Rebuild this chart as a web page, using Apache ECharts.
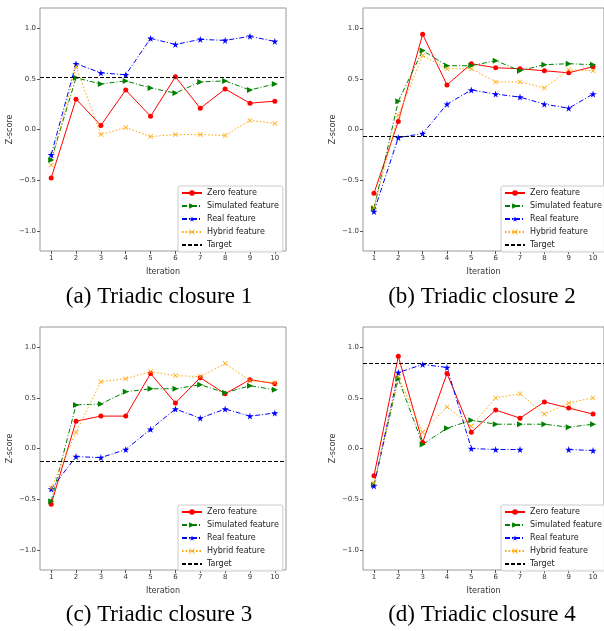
<!DOCTYPE html>
<html>
<head>
<meta charset="utf-8">
<script src="https://cdn.jsdelivr.net/npm/echarts@6/dist/echarts.min.js"></script>
<style>
  html, body { margin: 0; padding: 0; background: #fff; }
  #chart { width: 604px; height: 631px; }
</style>
</head>
<body>
<div id="chart"></div>
<script>
// shared axes
const iterations = [1, 2, 3, 4, 5, 6, 7, 8, 9, 10];
const yTicks = [-1.0, -0.5, 0.0, 0.5, 1.0];
const seriesNames = ['Zero feature', 'Simulated feature', 'Real feature', 'Hybrid feature', 'Target'];
const captions = ['(a) Triadic closure 1', '(b) Triadic closure 2', '(c) Triadic closure 3', '(d) Triadic closure 4'];

// (a)
const zero1 = [-0.48, 0.30, 0.04, 0.39, 0.13, 0.52, 0.21, 0.40, 0.26, 0.28];
const sim1 = [-0.30, 0.51, 0.45, 0.48, 0.41, 0.36, 0.47, 0.48, 0.39, 0.45];
const real1 = [-0.25, 0.65, 0.56, 0.54, 0.90, 0.84, 0.89, 0.88, 0.92, 0.87];
const hybrid1 = [-0.35, 0.62, -0.05, 0.02, -0.07, -0.05, -0.05, -0.06, 0.09, 0.06];
const target1 = 0.52;

// (b)
const zero2 = [-0.63, 0.08, 0.94, 0.44, 0.65, 0.61, 0.60, 0.58, 0.56, 0.62];
const sim2 = [-0.78, 0.28, 0.78, 0.63, 0.63, 0.68, 0.58, 0.64, 0.65, 0.64];
const real2 = [-0.81, -0.08, -0.04, 0.25, 0.39, 0.35, 0.32, 0.25, 0.21, 0.35];
const hybrid2 = [-0.77, 0.14, 0.73, 0.60, 0.60, 0.47, 0.47, 0.41, 0.59, 0.58];
const target2 = -0.07;

// (c)
const zero3 = [-0.55, 0.27, 0.32, 0.32, 0.74, 0.45, 0.70, 0.54, 0.68, 0.64];
const sim3 = [-0.52, 0.43, 0.44, 0.56, 0.59, 0.59, 0.63, 0.55, 0.62, 0.58];
const real3 = [-0.40, -0.08, -0.09, -0.01, 0.19, 0.39, 0.30, 0.39, 0.32, 0.35];
const hybrid3 = [-0.39, 0.16, 0.66, 0.69, 0.76, 0.72, 0.71, 0.84, 0.67, 0.65];
const target3 = -0.13;

// (d) -- real feature has no value at iteration 8
const zero4 = [-0.27, 0.91, 0.06, 0.74, 0.16, 0.38, 0.30, 0.46, 0.40, 0.34];
const sim4 = [-0.36, 0.69, 0.04, 0.20, 0.28, 0.24, 0.24, 0.24, 0.21, 0.24];
const real4 = [-0.37, 0.75, 0.83, 0.80, 0.00, -0.01, -0.01, null, -0.01, -0.02];
const hybrid4 = [-0.34, 0.71, 0.16, 0.41, 0.22, 0.50, 0.54, 0.34, 0.45, 0.50];
const target4 = 0.84;

const panels = [
  { zero: zero1, sim: sim1, real: real1, hybrid: hybrid1, target: target1, left: 40, top: 8, capY: 297 },
  { zero: zero2, sim: sim2, real: real2, hybrid: hybrid2, target: target2, left: 363, top: 8, capY: 297 },
  { zero: zero3, sim: sim3, real: real3, hybrid: hybrid3, target: target3, left: 40, top: 327, capY: 615 },
  { zero: zero4, sim: sim4, real: real4, hybrid: hybrid4, target: target4, left: 363, top: 327, capY: 615 }
];

const PLOT_W = 246;
const PLOT_H = 243;
const starPath = 'path://M50,0 L61,35 L98,35 L68,57 L79,91 L50,70 L21,91 L32,57 L2,35 L39,35Z';
const crossPath = 'path://M1,0 L5,4 L9,0 L10,1 L6,5 L10,9 L9,10 L5,6 L1,10 L0,9 L4,5 L0,1Z';
const dashDot = [5, 2, 1, 2];

const styles = [
  { color: '#ff0000', type: 'solid', symbol: 'circle', size: 5, rotate: 0 },
  { color: '#008000', type: dashDot, symbol: 'triangle', size: 6, rotate: -90 },
  { color: '#0000ff', type: dashDot, symbol: starPath, size: 7, rotate: 0 },
  { color: '#ffa500', type: [1.5, 2], symbol: crossPath, size: 5, rotate: 0 }
];

const fmt = v => v.toFixed(1).replace('-', '\u2212');
const pairs = arr => iterations.map((it, i) => [it, arr[i]]);

const legendData = seriesNames.map(n => n === 'Target'
  ? { name: n, itemStyle: { opacity: 0 } }
  : { name: n });

const grid = [], xAxis = [], yAxis = [], legend = [], series = [];

panels.forEach((p, k) => {
  grid.push({
    left: p.left, top: p.top, width: PLOT_W, height: PLOT_H,
    show: true, borderColor: '#999', borderWidth: 1, backgroundColor: 'transparent'
  });
  xAxis.push({
    type: 'value', gridIndex: k, min: 0.55, max: 10.45,
    name: 'Iteration', nameLocation: 'middle', nameGap: 17,
    nameTextStyle: { fontFamily: 'DejaVu Sans', fontSize: 8, color: '#333' },
    axisLine: { show: false, onZero: false },
    splitLine: { show: false },
    axisTick: { show: true, length: 3, inside: false, customValues: iterations, lineStyle: { color: '#555' } },
    axisLabel: { customValues: iterations, fontFamily: 'DejaVu Sans', fontSize: 7, color: '#333', margin: 4, formatter: v => String(v) }
  });
  yAxis.push({
    type: 'value', gridIndex: k, min: -1.2, max: 1.2,
    name: 'Z-score', nameLocation: 'middle', nameGap: 26,
    nameTextStyle: { fontFamily: 'DejaVu Sans', fontSize: 8, color: '#333' },
    axisLine: { show: false, onZero: false },
    splitLine: { show: false },
    axisTick: { show: true, length: 3, inside: false, customValues: yTicks, lineStyle: { color: '#555' } },
    axisLabel: { customValues: yTicks, fontFamily: 'DejaVu Sans', fontSize: 7, color: '#333', margin: 4, formatter: fmt }
  });
  legend.push({
    data: legendData, orient: 'vertical',
    left: p.left + 138, top: p.top + 178,
    itemWidth: 20, itemHeight: 7, itemGap: 5,
    padding: [3, 4, 3, 3],
    backgroundColor: 'rgba(255,255,255,0.85)', borderColor: '#ccc', borderWidth: 1, borderRadius: 2,
    textStyle: { fontFamily: 'DejaVu Sans', fontSize: 8, color: '#222' },
    selectedMode: false
  });
  [p.zero, p.sim, p.real, p.hybrid].forEach((vals, j) => {
    const s = styles[j];
    series.push({
      name: seriesNames[j], type: 'line', xAxisIndex: k, yAxisIndex: k,
      data: pairs(vals), connectNulls: false,
      symbol: s.symbol, symbolSize: s.size, symbolRotate: s.rotate,
      lineStyle: { color: s.color, width: 1, type: s.type },
      itemStyle: { color: s.color },
      emphasis: { disabled: true }
    });
  });
  series.push({
    name: 'Target', type: 'line', xAxisIndex: k, yAxisIndex: k, data: [],
    symbol: 'none',
    lineStyle: { color: '#000', width: 1, type: [4, 2] },
    itemStyle: { color: '#000' },
    markLine: {
      silent: true, symbol: 'none', label: { show: false },
      lineStyle: { color: '#000', width: 1, type: [4, 2] },
      data: [{ yAxis: p.target }]
    }
  });
});

const chart = echarts.init(document.getElementById('chart'), null, { renderer: 'canvas' });
chart.setOption({
  animation: false,
  backgroundColor: '#fff',
  grid, xAxis, yAxis, legend, series,
  // captions below each panel
  graphic: panels.map((p, k) => ({
    type: 'text', silent: true,
    x: p.left + PLOT_W / 2 - 4, y: p.capY,
    style: {
      text: captions[k], fontFamily: 'Liberation Serif', fontSize: 23, fill: '#000',
      align: 'center', verticalAlign: 'middle'
    }
  }))
});

window.addEventListener('resize', () => chart.resize());
</script>
</body>
</html>
